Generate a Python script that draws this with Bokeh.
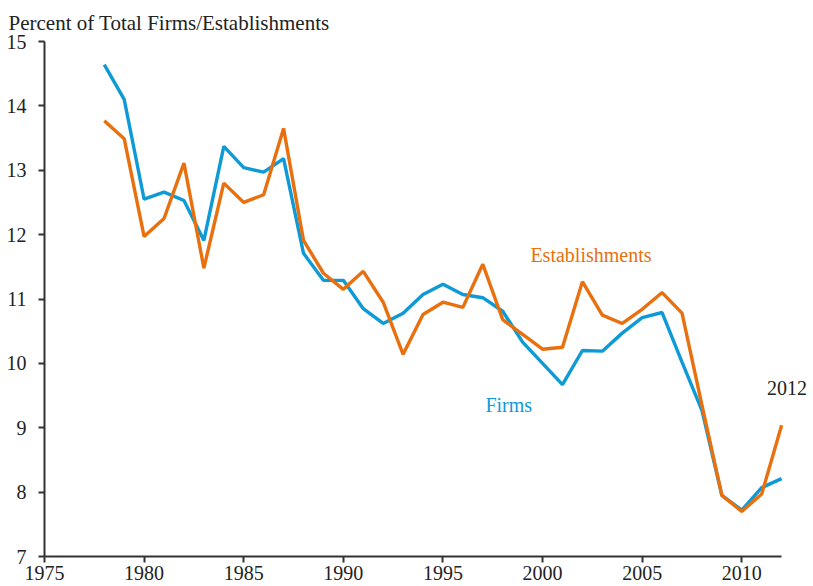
from bokeh.plotting import figure
from bokeh.models import ColumnDataSource, Range1d, FixedTicker, Label
from bokeh.embed import file_html
from bokeh.resources import INLINE

years = list(range(1978, 2013))
firms = [14.64, 14.10, 12.55, 12.66, 12.53, 11.91, 13.37, 13.04, 12.97, 13.18,
         11.71, 11.29, 11.29, 10.85, 10.62, 10.78, 11.07, 11.23, 11.07, 11.02,
         10.81, 10.33, 10.00, 9.67, 10.20, 10.19, 10.47, 10.71, 10.79, 10.02,
         9.27, 7.95, 7.72, 8.07, 8.21]
establishments = [13.77, 13.49, 11.97, 12.25, 13.11, 11.48, 12.80, 12.50, 12.62, 13.65,
                  11.91, 11.40, 11.15, 11.43, 10.95, 10.14, 10.76, 10.95, 10.87, 11.54,
                  10.68, 10.45, 10.22, 10.25, 11.27, 10.75, 10.62, 10.84, 11.10, 10.78,
                  9.35, 7.95, 7.70, 7.97, 9.04]

x_ticks = [1975, 1980, 1985, 1990, 1995, 2000, 2005, 2010]
y_ticks = [7, 8, 9, 10, 11, 12, 13, 14, 15]
x_axis_bounds = (1975, 2012)

label_text = ["Establishments", "Firms", "2012"]
label_x = [1999.39, 1997.13, 2011.26]
label_y = [11.68, 9.36, 9.61]
label_color = ["#E8700E", "#0D9AD6", "#222222"]

FONT = "Liberation Serif"

p = figure(width=813, height=586, output_backend="svg", toolbar_location=None,
           x_range=Range1d(1975, 2013.6), y_range=Range1d(7, 15),
           min_border_left=44, min_border_right=0, min_border_top=41, min_border_bottom=30)

p.title.text = "Percent of Total Firms/Establishments"
p.title.text_font = FONT
p.title.text_font_size = "21px"
p.title.text_font_style = "normal"
p.title.text_color = "#222222"
p.title.align = "left"
p.title.vertical_align = "top"
p.title.offset = -36

p.outline_line_color = None
p.xgrid.grid_line_color = None
p.ygrid.grid_line_color = None
p.background_fill_color = "white"

for ax in (p.xaxis[0], p.yaxis[0]):
    ax.axis_line_color = "#333333"
    ax.axis_line_width = 2
    ax.major_tick_line_color = "#333333"
    ax.major_tick_line_width = 2
    ax.major_tick_out = 6
    ax.major_tick_in = 0
    ax.minor_tick_line_color = None
    ax.major_label_text_font = FONT
    ax.major_label_text_font_size = "20px"
    ax.major_label_text_color = "#222222"

p.xaxis[0].ticker = FixedTicker(ticks=x_ticks)
p.xaxis[0].bounds = x_axis_bounds
p.yaxis[0].ticker = FixedTicker(ticks=y_ticks)
p.xaxis[0].major_label_standoff = 3
p.yaxis[0].major_label_standoff = 12

src = ColumnDataSource(dict(x=years, f=firms, e=establishments))
p.line("x", "f", source=src, line_color="#0D9AD6", line_width=3.4)
p.line("x", "e", source=src, line_color="#E8700E", line_width=3.4)

for t, lx, ly, c in zip(label_text, label_x, label_y, label_color):
    p.add_layout(Label(x=lx, y=ly, text=t, text_color=c, text_font=FONT,
                       text_font_size="20px", text_align="left", text_baseline="middle"))

open("out.html", "w").write(file_html(p, INLINE))
